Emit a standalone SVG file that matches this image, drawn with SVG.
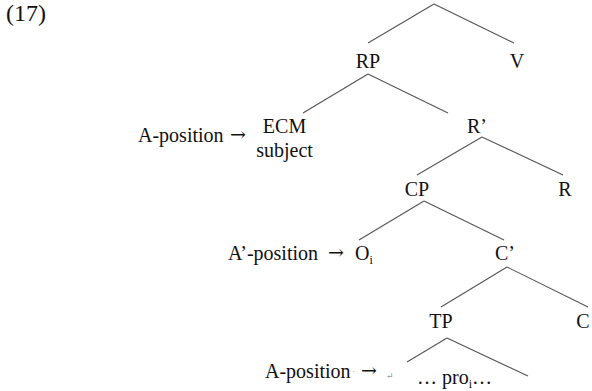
<svg xmlns="http://www.w3.org/2000/svg" width="592" height="391" viewBox="0 0 592 391" font-family="Liberation Serif, DejaVu Serif, serif">
<style>
text{font-family:'Liberation Serif','DejaVu Serif',serif;font-size:20px;fill:#111}
.m{text-anchor:middle}
.sub{font-size:12px}
.mark{font-size:9px;fill:#999}
.arr{font-family:'DejaVu Serif',serif;font-size:19px}
#connectors line{stroke:#555;stroke-width:1.1;fill:none}
</style>
<rect width="592" height="391" fill="#fff"/>
<text id="label" x="6" y="21" style="font-size:24px">(17)</text>
<g id="connectors">
<line x1="434" y1="4" x2="368" y2="43"/>
<line x1="434" y1="4" x2="514" y2="43"/>
<line x1="368" y1="74" x2="303" y2="113"/>
<line x1="368" y1="74" x2="448" y2="113"/>
<line x1="482" y1="137" x2="417" y2="175"/>
<line x1="482" y1="137" x2="563" y2="175"/>
<line x1="424" y1="201" x2="359" y2="240"/>
<line x1="424" y1="201" x2="504" y2="240"/>
<line x1="507" y1="267" x2="441" y2="307"/>
<line x1="507" y1="267" x2="588" y2="307"/>
<line x1="447" y1="338" x2="407" y2="362"/>
<line x1="447" y1="338" x2="528" y2="376"/>
</g>
<g id="RP"><text class="m" x="368" y="68">RP</text></g>
<g id="V"><text class="m" x="517" y="68">V</text></g>
<g id="ECM"><text class="m" x="284.5" y="133">ECM</text><text class="m" x="284.5" y="157">subject</text></g>
<g id="apos1"><text x="138" y="142">A-position</text><text class="arr" x="230" y="141">→</text></g>
<g id="Rbar"><text x="467" y="133">R’</text></g>
<g id="CP"><text class="m" x="417" y="196">CP</text></g>
<g id="R"><text class="m" x="565" y="196">R</text></g>
<g id="Oi"><text x="355" y="260">O<tspan class="sub" dy="4">i</tspan></text></g>
<g id="apos2"><text x="228" y="260">A’-position</text><text class="arr" x="328" y="259">→</text></g>
<g id="Cbar"><text x="495" y="260">C’</text></g>
<g id="TP"><text class="m" x="441" y="328">TP</text></g>
<g id="C"><text class="m" x="583" y="328">C</text></g>
<g id="apos3"><text x="265" y="378">A-position</text><text class="mark" x="352" y="374">·</text><text class="arr" x="361" y="377">→</text><text class="mark" x="386" y="379">↵</text></g>
<g id="pro"><text x="417" y="384">… pro<tspan class="sub" dy="4">i</tspan><tspan dy="-4">…</tspan></text></g>
</svg>
